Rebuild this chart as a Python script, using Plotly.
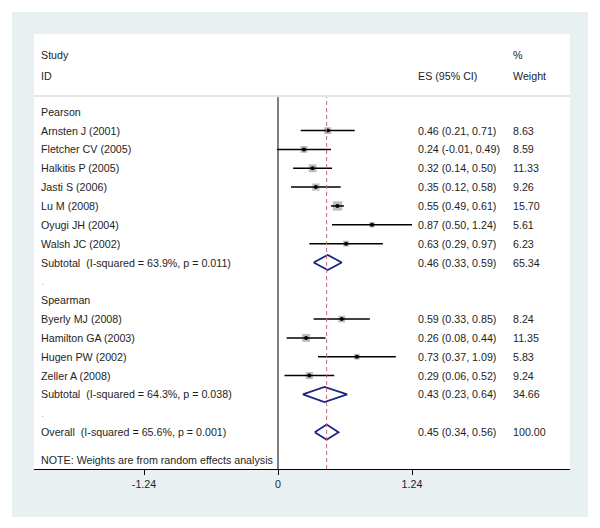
import plotly.graph_objects as go

# ---------------- data ----------------
group_names = ["Pearson", "Spearman"]
pearson_studies = ["Arnsten J (2001)", "Fletcher CV (2005)", "Halkitis P (2005)", "Jasti S (2006)",
                   "Lu M (2008)", "Oyugi JH (2004)", "Walsh JC (2002)"]
pearson_es = [0.46, 0.24, 0.32, 0.35, 0.55, 0.87, 0.63]
pearson_lo = [0.21, -0.01, 0.14, 0.12, 0.49, 0.50, 0.29]
pearson_hi = [0.71, 0.49, 0.50, 0.58, 0.61, 1.24, 0.97]
pearson_w = [8.63, 8.59, 11.33, 9.26, 15.70, 5.61, 6.23]

spearman_studies = ["Byerly MJ (2008)", "Hamilton GA (2003)", "Hugen PW (2002)", "Zeller A (2008)"]
spearman_es = [0.59, 0.26, 0.73, 0.29]
spearman_lo = [0.33, 0.08, 0.37, 0.06]
spearman_hi = [0.85, 0.44, 1.09, 0.52]
spearman_w = [8.24, 11.35, 5.83, 9.24]

subtotal_labels = ["Subtotal  (I-squared = 63.9%, p = 0.011)", "Subtotal  (I-squared = 64.3%, p = 0.038)"]
subtotal_es = [0.46, 0.43]
subtotal_lo = [0.33, 0.23]
subtotal_hi = [0.59, 0.64]
subtotal_w = [65.34, 34.66]

overall_label = "Overall  (I-squared = 65.6%, p = 0.001)"
overall_es = 0.45
overall_lo = 0.34
overall_hi = 0.56
overall_w = 100.00

tick_vals = [-1.24, 0, 1.24]
tick_text = ["-1.24", "0", "1.24"]
note_text = "NOTE: Weights are from random effects analysis"

# ---------------- layout constants ----------------
FONT = "Liberation Sans, Arial, sans-serif"
FS = 10.7
TXT = "#1e1e1e"
X_LABEL, X_ES, X_W = 0.009, 0.7134, 0.8894  # paper x for text columns

groups = [
    (pearson_studies, pearson_es, pearson_lo, pearson_hi, pearson_w),
    (spearman_studies, spearman_es, spearman_lo, spearman_hi, spearman_w),
]

annotations = []
def txt(x, y, s, yref="y"):
    annotations.append(dict(x=x, y=y, xref="paper", yref=yref, text=s, showarrow=False,
                            xanchor="left", yanchor="middle",
                            font=dict(family=FONT, size=FS, color=TXT)))

st_y, st_es, st_lo, st_hi, st_w = [], [], [], [], []
dia_rows = []
row = 0
for gi, (names, es, lo, hi, w) in enumerate(groups):
    txt(X_LABEL, row, group_names[gi])
    row += 1
    for n, e, l, h, ww in zip(names, es, lo, hi, w):
        st_y.append(row); st_es.append(e); st_lo.append(l); st_hi.append(h); st_w.append(ww)
        txt(X_LABEL, row, n)
        txt(X_ES, row, f"{e:.2f} ({l:.2f}, {h:.2f})")
        txt(X_W, row, f"{ww:.2f}")
        row += 1
    txt(X_LABEL, row, subtotal_labels[gi])
    txt(X_ES, row, f"{subtotal_es[gi]:.2f} ({subtotal_lo[gi]:.2f}, {subtotal_hi[gi]:.2f})")
    txt(X_W, row, f"{subtotal_w[gi]:.2f}")
    dia_rows.append((row, subtotal_es[gi], subtotal_lo[gi], subtotal_hi[gi]))
    row += 1
    annotations.append(dict(x=X_LABEL, y=row, xref="paper", yref="y", text=".", showarrow=False,
                            xanchor="left", yanchor="middle",
                            font=dict(family=FONT, size=FS, color="#bbbbbb")))
    row += 1

txt(X_LABEL, row, overall_label)
txt(X_ES, row, f"{overall_es:.2f} ({overall_lo:.2f}, {overall_hi:.2f})")
txt(X_W, row, f"{overall_w:.2f}")
dia_rows.append((row, overall_es, overall_lo, overall_hi))
note_row = row + 1.48

txt(X_LABEL, note_row, note_text)

# header texts (paper coords above the plot area)
txt(X_LABEL, 1.110, "Study", yref="paper")
txt(X_LABEL, 1.054, "ID", yref="paper")
txt(X_ES, 1.054, "ES (95% CI)", yref="paper")
txt(X_W, 1.110, "%", yref="paper")
txt(X_W, 1.054, "Weight", yref="paper")

fig = go.Figure()

# weight squares
fig.add_trace(go.Scatter(
    x=st_es, y=st_y, mode="markers",
    marker=dict(symbol="square", size=[2.35 * (w ** 0.5) for w in st_w], color="#a3a3a3",
                line=dict(width=0)),
    hoverinfo="skip", showlegend=False))

# CI lines + point estimates
fig.add_trace(go.Scatter(
    x=st_es, y=st_y, mode="markers",
    marker=dict(symbol="circle", size=4, color="black"),
    error_x=dict(type="data", symmetric=False,
                 array=[h - e for e, h in zip(st_es, st_hi)],
                 arrayminus=[e - l for e, l in zip(st_es, st_lo)],
                 color="black", thickness=1.5, width=0),
    showlegend=False))

# diamonds
H = 0.4
for r, e, l, h in dia_rows:
    fig.add_trace(go.Scatter(
        x=[l, e, h, e, l], y=[r, r - H, r, r + H, r], mode="lines",
        line=dict(color="#1c2580", width=1.8), hoverinfo="skip", showlegend=False))

shapes = [
    # outer bluish-gray box
    dict(type="rect", xref="paper", yref="paper", x0=-0.041, x1=1.0336, y0=-0.1287, y1=1.2252,
         fillcolor="#e8f0f2", line=dict(width=0), layer="below"),
    # inner white panel
    dict(type="rect", xref="paper", yref="paper", x0=0, x1=1, y0=0, y1=1.166,
         fillcolor="white", line=dict(width=0), layer="below"),
    # header separator
    dict(type="line", xref="paper", yref="paper", x0=0, x1=1, y0=1.0, y1=1.0,
         line=dict(color="#dcdcdc", width=1.5)),
    # null line
    dict(type="line", xref="x", yref="paper", x0=0, x1=0, y0=0, y1=0.997,
         line=dict(color="black", width=1)),
    # overall effect dashed line
    dict(type="line", xref="x", yref="paper", x0=overall_es, x1=overall_es, y0=0, y1=0.997,
         line=dict(color="#c86878", width=1, dash="4px,3px")),
]

fig.update_layout(
    width=600, height=528,
    margin=dict(l=34, r=30, t=96, b=59),
    paper_bgcolor="white", plot_bgcolor="rgba(0,0,0,0)",
    shapes=shapes, annotations=annotations,
    xaxis=dict(range=[-2.258, 2.702], showgrid=False, zeroline=False,
               showline=True, linecolor="black", linewidth=1,
               ticks="outside", ticklen=5, tickcolor="black", tickwidth=1,
               tickvals=tick_vals, ticktext=tick_text,
               tickfont=dict(family=FONT, size=FS, color=TXT)),
    yaxis=dict(range=[18.955, -0.833], visible=False, showgrid=False, zeroline=False),
    font=dict(family=FONT, size=FS, color=TXT),
)

fig.write_html("out.html", config={"displayModeBar": False},
               post_script="document.body.style.margin='0';document.body.style.overflow='hidden';")
